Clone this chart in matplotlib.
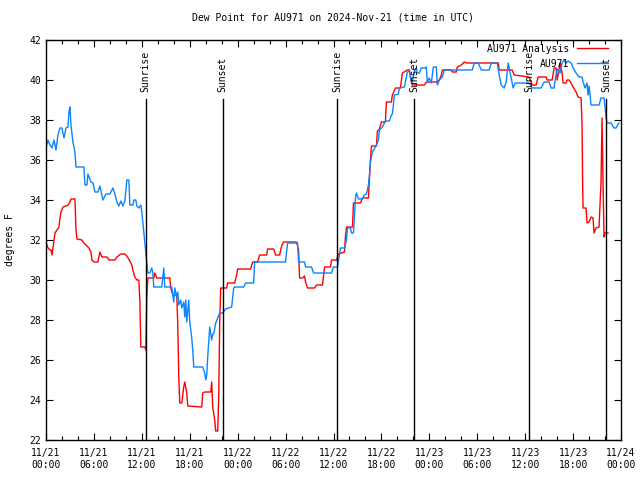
import numpy as np
import pandas as pd
import matplotlib
matplotlib.use('Agg')
import matplotlib.pyplot as plt
import matplotlib.dates as mdates
from matplotlib.transforms import blended_transform_factory

plt.rcParams['font.family'] = ['DejaVu Sans Mono']
plt.rcParams['font.size'] = 7

start = pd.Timestamp('2024-11-21 00:00')

# AU971 observations (hours after start, degrees F)
obs_hours = [0.0, 0.25, 0.5, 0.75, 1.0, 1.25, 1.5, 1.75, 2.0, 2.25, 2.5, 2.75, 2.875, 3.0, 3.125,
             3.375, 3.625, 3.75, 4.75, 4.875, 5.125, 5.25, 5.625, 5.875, 6.125, 6.5, 6.75, 7.125,
             7.5, 8.0, 8.375, 8.625, 8.875, 9.125, 9.375, 9.625, 9.875, 10.125, 10.375, 10.5,
             10.875, 11.0, 11.25, 11.375, 11.625, 11.875, 12.0, 12.25, 12.5, 12.625, 12.75, 13.0,
             13.25, 13.375, 13.5, 14.5, 14.625, 14.75, 14.875, 15.75, 15.875, 16.0, 16.125, 16.375,
             16.5, 16.625, 16.875, 17.0, 17.25, 17.375, 17.5, 17.625, 17.875, 18.0, 18.25, 18.375,
             18.5, 19.625, 19.875, 20.0, 20.125, 20.25, 20.5, 20.75, 20.875, 21.0, 21.25, 21.5,
             21.75, 22.125, 22.5, 23.25, 23.5, 23.625, 24.75, 25.0, 26.0, 26.125, 30.0, 30.25,
             31.5, 31.625, 32.375, 32.5, 33.25, 33.5, 35.75, 36.0, 36.5, 36.875, 37.375, 37.625,
             37.75, 38.125, 38.25, 38.5, 38.75, 38.875, 39.125, 39.625, 39.875, 40.125, 40.375,
             40.5, 40.625, 40.875, 41.375, 41.625, 41.75, 42.0, 42.125, 42.5, 43.0, 43.25, 43.375,
             43.625, 44.125, 44.25, 44.875, 45.25, 45.5, 45.75, 45.875, 46.125, 46.375, 46.5,
             46.75, 47.0, 47.5, 47.625, 47.75, 48.0, 48.25, 48.5, 48.875, 49.0, 49.25, 49.625,
             49.875, 53.375, 53.625, 54.125, 54.5, 55.5, 55.75, 56.5, 56.75, 57.0, 57.375, 57.625,
             57.875, 58.25, 58.5, 58.75, 60.5, 60.875, 62.0, 62.375, 63.0, 63.25, 63.625, 63.75,
             64.0, 64.375, 64.625, 64.875, 65.125, 65.375, 65.75, 66.0, 66.375, 66.75, 67.125,
             67.25, 67.5, 67.75, 67.875, 68.0, 68.25, 69.25, 69.5, 69.875, 70.125, 70.25, 70.75,
             71.125, 71.375, 71.75]
obs_dewp = [36.6, 37.0, 36.75, 36.6, 37.0, 36.5, 37.25, 37.6, 37.6, 37.1, 37.6, 37.65, 38.4, 38.65, 37.75,
            36.9, 36.4, 35.65, 35.65, 34.75, 34.75, 35.3, 34.9, 34.85, 34.4, 34.4, 34.7, 34.0,
            34.3, 34.3, 34.6, 34.3, 33.9, 33.7, 33.95, 33.7, 33.95, 35.0, 35.0, 33.75,
            33.75, 34.0, 34.0, 33.7, 33.6, 33.75, 33.4, 32.4, 31.4, 30.85, 30.35, 30.35,
            30.6, 30.35, 29.65, 29.65, 30.1, 30.6, 29.65, 29.65, 29.25, 28.9, 29.6, 29.15,
            29.4, 28.75, 29.0, 28.6, 28.9, 28.15, 29.0, 27.9, 29.0, 27.9, 27.1, 26.5,
            25.65, 25.65, 25.35, 25.0, 25.25, 26.15, 27.65, 27.0, 27.3, 27.3, 27.85, 28.1,
            28.35, 28.35, 28.55, 28.65, 29.6, 29.65, 29.65, 29.85, 29.85, 30.9, 30.9, 31.85,
            31.85, 30.9, 30.9, 30.65, 30.65, 30.35, 30.35, 30.65, 30.65, 31.6, 31.6, 32.0,
            32.6, 32.6, 32.35, 32.35, 34.1, 34.35, 34.05, 34.05, 34.25, 34.3, 34.75,
            35.25, 35.9, 36.4, 36.75, 37.0, 37.5, 37.6, 37.65, 37.95, 37.95, 38.25, 38.3,
            39.25, 39.3, 39.6, 39.65, 40.4, 40.45, 39.9, 39.9, 40.45, 40.6, 40.35,
            40.35, 40.6, 40.6, 40.65, 39.9, 40.1, 39.85, 40.65, 40.65, 39.75, 40.0, 40.15,
            40.5, 40.5, 40.85, 40.85, 40.5, 40.5, 40.85, 40.85, 40.25, 39.75, 39.6, 39.9,
            40.85, 40.1, 39.6, 39.85, 39.85, 39.6, 39.6, 39.9, 39.9, 39.6, 39.6, 40.0,
            40.55, 40.35, 40.85, 41.0, 40.85, 40.95, 40.85, 40.6, 40.35, 40.15, 40.15,
            39.9, 39.6, 39.85, 39.25, 39.7, 38.75, 38.75, 39.1, 39.1, 38.15, 37.85, 37.85,
            37.6, 37.6, 37.85]

# AU971 analysis
ana_hours = [0.0, 0.25, 0.5, 0.625, 0.75, 0.875, 1.125, 1.375, 1.625, 1.75, 1.875, 2.125, 2.5, 2.75,
             3.0, 3.125, 3.625, 3.75, 3.875, 4.5, 4.75, 5.125, 5.375, 5.625, 5.75, 6.0, 6.5, 6.75,
             7.0, 7.625, 7.875, 8.625, 8.875, 9.375, 9.875, 10.125, 10.5, 10.75, 10.875, 11.125,
             11.375, 11.625, 11.75, 11.875, 12.375, 12.5, 12.625, 12.75, 13.5, 13.625, 13.875,
             15.5, 15.625, 15.875, 16.375, 16.5, 16.625, 16.75, 17.0, 17.25, 17.375, 17.625,
             17.75, 19.5, 19.625, 19.875, 20.625, 20.75, 20.875, 21.125, 21.25, 21.5, 21.625,
             21.75, 21.875, 22.625, 22.75, 23.625, 23.875, 24.0, 25.625, 25.875, 26.5, 26.75,
             27.625, 27.75, 28.5, 28.75, 29.25, 29.5, 29.75, 31.375, 31.625, 31.75, 32.125,
             32.375, 32.5, 32.75, 33.625, 33.875, 34.625, 34.875, 35.625, 35.75, 36.375, 36.625,
             37.375, 37.5, 37.625, 38.375, 38.5, 39.375, 39.625, 40.375, 40.625, 40.75, 41.375,
             41.5, 41.75, 42.0, 42.5, 42.625, 43.25, 43.375, 43.75, 44.375, 44.625, 45.25, 45.5,
             45.75, 45.875, 47.375, 47.625, 48.875, 49.25, 49.5, 49.625, 50.75, 50.875, 51.375,
             51.5, 52.0, 52.375, 52.625, 56.625, 56.75, 58.375, 58.625, 60.5, 60.875, 61.375,
             61.625, 62.625, 62.75, 63.375, 63.625, 63.875, 64.0, 64.375, 64.625, 64.75, 65.125,
             65.25, 65.5, 65.75, 66.0, 66.375, 66.625, 67.0, 67.125, 67.19, 67.25, 67.625, 67.75,
             68.0, 68.25, 68.5, 68.625, 68.875, 69.25, 69.5, 69.625, 69.75, 69.875, 70.0, 70.375]
ana_dewp = [31.9, 31.6, 31.5, 31.5, 31.25, 31.6, 32.35, 32.5, 32.65, 33.1, 33.4, 33.65, 33.7, 33.75,
            33.9, 34.05, 34.05, 32.55, 32.05, 32.0, 31.85, 31.7, 31.6, 31.4, 31.0, 30.9, 30.9, 31.4,
            31.15, 31.15, 31.0, 31.0, 31.15, 31.3, 31.3, 31.2, 30.95, 30.75, 30.5, 30.15,
            30.0, 30.0, 29.0, 26.65, 26.65, 26.5, 29.15, 30.1, 30.1, 30.35, 30.1,
            30.1, 29.6, 29.25, 29.25, 27.75, 25.15, 23.85, 23.85, 24.65, 24.9, 24.35,
            23.7, 23.65, 24.35, 24.4, 24.4, 24.9, 23.65, 23.0, 22.45, 22.45, 24.15,
            27.85, 29.6, 29.6, 29.85, 29.85, 30.25, 30.55, 30.55, 30.9, 30.9, 31.25,
            31.25, 31.55, 31.55, 31.25, 31.25, 31.7, 31.9, 31.9, 31.5, 30.1, 30.1,
            30.2, 29.9, 29.6, 29.6, 29.75, 29.75, 30.65, 30.65, 31.0, 31.0, 31.3,
            31.4, 32.2, 32.65, 32.65, 33.85, 33.85, 34.1, 34.1, 36.0, 36.7, 36.7,
            37.45, 37.55, 37.9, 37.9, 38.9, 38.9, 39.25, 39.6, 39.6, 40.35, 40.5, 40.5,
            39.9, 39.75, 39.75, 39.9, 39.9, 40.0, 40.25, 40.5, 40.5, 40.4, 40.4,
            40.65, 40.75, 40.9, 40.85, 40.85, 40.5, 40.5, 40.25, 40.15, 39.75, 39.75,
            40.15, 40.15, 40.0, 40.0, 40.6, 40.6, 40.0, 40.85, 40.35, 39.85, 39.85,
            40.0, 40.0, 39.85, 39.65, 39.4, 39.15, 39.1, 37.75, 34.9, 33.6, 33.6, 32.85,
            32.9, 33.15, 33.1, 32.35, 32.6, 32.65, 34.9, 38.1, 34.9, 32.15, 32.35, 32.35]

sun_times = ['2024-11-21 12:30', '2024-11-21 22:07', '2024-11-22 12:30',
             '2024-11-22 22:07', '2024-11-23 12:30', '2024-11-23 22:07']
sun_labels = ['Sunrise', 'Sunset', 'Sunrise', 'Sunset', 'Sunrise', 'Sunset']

obs_t = start + pd.to_timedelta(obs_hours, unit='h')
ana_t = start + pd.to_timedelta(ana_hours, unit='h')

fig = plt.figure(figsize=(6.4, 4.8), dpi=100)
ax = fig.add_axes([46 / 640, 40 / 480, 575 / 640, 400 / 480])

ax.plot(ana_t, ana_dewp, color='#ff0000', lw=1.0, label='AU971 Analysis')
ax.plot(obs_t, obs_dewp, color='#0a84ff', lw=1.0, label='AU971')

trans = blended_transform_factory(ax.transData, ax.transAxes)
for t, lab in zip(sun_times, sun_labels):
    tt = pd.Timestamp(t)
    ax.axvline(tt, ymin=0, ymax=0.8525, color='black', lw=1.0)
    ax.text(tt, 0.87, lab, rotation=90, ha='center', va='bottom', transform=trans)

ax.set_xlim(start, start + pd.Timedelta(hours=72))
ax.set_ylim(22, 42)
ax.set_yticks(np.arange(22, 43, 2))
ax.xaxis.set_major_locator(mdates.HourLocator(byhour=[0, 6, 12, 18]))
ax.xaxis.set_minor_locator(mdates.HourLocator(byhour=range(0, 24, 2)))
ax.xaxis.set_major_formatter(mdates.DateFormatter('%m/%d\n%H:%M'))
ax.tick_params(which='both', direction='in', top=True, right=True, width=0.8, labelsize=7)
ax.tick_params(which='major', length=5)
ax.tick_params(which='minor', length=3)
ax.tick_params(axis='x', pad=6)
for s in ax.spines.values():
    s.set_linewidth(1.0)

ax.set_title('Dew Point for AU971 on 2024-Nov-21 (time in UTC)', fontsize=7, pad=14)
ax.set_ylabel('degrees F', fontsize=7, labelpad=10)

ax.legend(loc='upper right', frameon=False, markerfirst=False, handlelength=3.2,
          borderaxespad=0.1, borderpad=0.3, labelspacing=0.5, fontsize=7,
          bbox_to_anchor=(0.985, 1.0))

fig.savefig('out.png', dpi=100)
